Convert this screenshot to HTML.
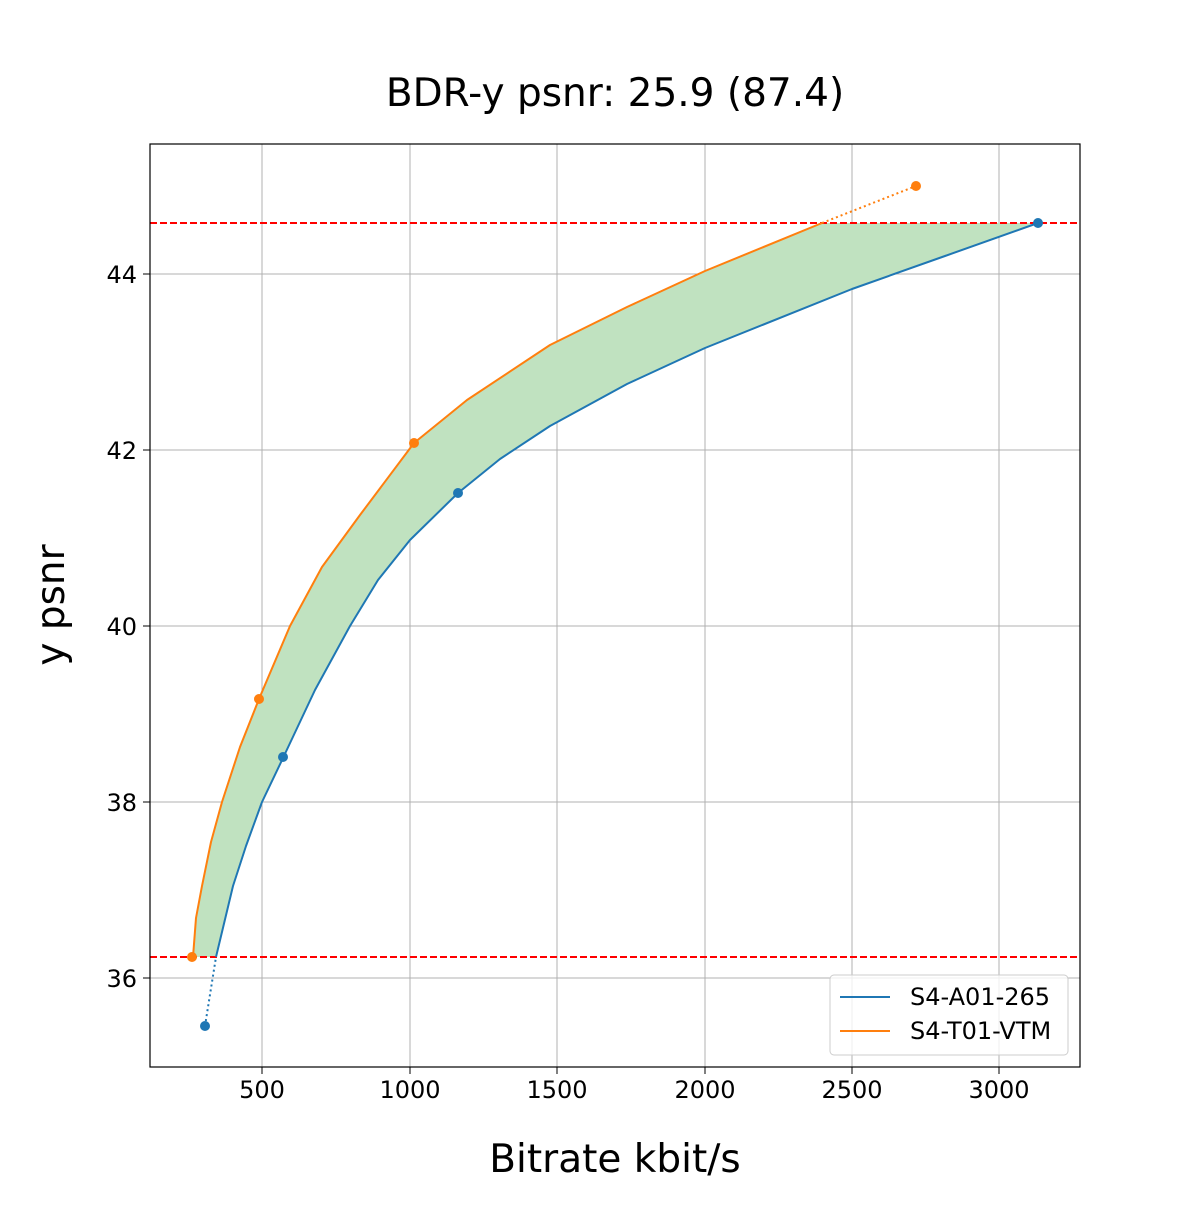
<!DOCTYPE html>
<html><head><meta charset="utf-8"><style>body{margin:0;background:#fff}</style></head>
<body>
<svg width="1200" height="1200" xmlns="http://www.w3.org/2000/svg" font-family="'DejaVu Sans','Liberation Sans',sans-serif">
<rect width="1200" height="1200" fill="#fff"/>
<g stroke="#b0b0b0" stroke-width="1">
<line x1="262" y1="144" x2="262" y2="1067"/><line x1="410" y1="144" x2="410" y2="1067"/>
<line x1="557" y1="144" x2="557" y2="1067"/><line x1="705" y1="144" x2="705" y2="1067"/>
<line x1="852" y1="144" x2="852" y2="1067"/><line x1="999" y1="144" x2="999" y2="1067"/>
<line x1="150" y1="274" x2="1080" y2="274"/><line x1="150" y1="450" x2="1080" y2="450"/>
<line x1="150" y1="626" x2="1080" y2="626"/><line x1="150" y1="802" x2="1080" y2="802"/>
<line x1="150" y1="978" x2="1080" y2="978"/>
</g>
<path d="M193,957 L196,918 L202,886 L211,842 L222,802 L240,747 L259,699 L290,626 L322,567 L360,515 L414,443 L467,400 L550,345 L627,307 L705,271 L822,223 L1038,223 L945,256 L852,289 L705,348 L627,384 L550,426 L500,459 L458,493 L410,540 L378,580 L350,626 L315,690 L283,758 L262,802 L246,846 L233,886 L216,957 Z" fill="#c0e2c0"/>
<line x1="150" y1="223" x2="1080" y2="223" stroke="#ff0000" stroke-width="2" stroke-dasharray="7,3"/>
<line x1="150" y1="957" x2="1080" y2="957" stroke="#ff0000" stroke-width="2" stroke-dasharray="7,3"/>
<polyline fill="none" stroke="#1f77b4" stroke-width="2" stroke-dasharray="2,3" points="205,1026 216,957"/>
<polyline fill="none" stroke="#1f77b4" stroke-width="2" stroke-linejoin="round" points="216,957 233,886 246,846 262,802 283,758 315,690 350,626 378,580 410,540 458,493 500,459 550,426 627,384 705,348 852,289 945,256 1038,223"/>
<polyline fill="none" stroke="#ff7f0e" stroke-width="2" stroke-linejoin="round" points="193,957 196,918 202,886 211,842 222,802 240,747 259,699 290,626 322,567 360,515 414,443 467,400 550,345 627,307 705,271 822,223"/>
<polyline fill="none" stroke="#ff7f0e" stroke-width="2" stroke-dasharray="2,3" points="822,223 916,186"/>
<g fill="#1f77b4"><circle cx="205" cy="1026" r="5"/><circle cx="283" cy="757" r="5"/><circle cx="458" cy="493" r="5"/><circle cx="1038" cy="223" r="5"/></g>
<g fill="#ff7f0e"><circle cx="192" cy="957" r="5"/><circle cx="259" cy="699" r="5"/><circle cx="414" cy="443" r="5"/><circle cx="916" cy="186" r="5"/></g>
<rect x="150" y="144" width="930" height="923" fill="none" stroke="#000" stroke-width="1.2"/>
<g stroke="#000"><line x1="262" y1="1067" x2="262" y2="1074"/><line x1="410" y1="1067" x2="410" y2="1074"/><line x1="557" y1="1067" x2="557" y2="1074"/><line x1="705" y1="1067" x2="705" y2="1074"/><line x1="852" y1="1067" x2="852" y2="1074"/><line x1="999" y1="1067" x2="999" y2="1074"/>
<line x1="143" y1="274" x2="150" y2="274"/><line x1="143" y1="450" x2="150" y2="450"/><line x1="143" y1="626" x2="150" y2="626"/><line x1="143" y1="802" x2="150" y2="802"/><line x1="143" y1="978" x2="150" y2="978"/></g>
<g font-size="24" text-anchor="middle" fill="#000">
<text x="262" y="1098">500</text><text x="410" y="1098">1000</text><text x="557" y="1098">1500</text><text x="705" y="1098">2000</text><text x="852" y="1098">2500</text><text x="999" y="1098">3000</text></g>
<g font-size="24" text-anchor="end" fill="#000">
<text x="137" y="283">44</text><text x="137" y="459">42</text><text x="137" y="635">40</text><text x="137" y="811">38</text><text x="137" y="987">36</text></g>
<text x="615" y="106" font-size="39" text-anchor="middle">BDR-y psnr: 25.9 (87.4)</text>
<text x="615" y="1172" font-size="39" text-anchor="middle">Bitrate kbit/s</text>
<text transform="translate(64,605) rotate(-90)" font-size="39" text-anchor="middle">y psnr</text>
<rect x="830" y="975" width="238" height="80" rx="4" fill="#fff" fill-opacity="0.8" stroke="#ccc"/>
<line x1="840" y1="997" x2="890" y2="997" stroke="#1f77b4" stroke-width="2"/>
<line x1="840" y1="1031" x2="890" y2="1031" stroke="#ff7f0e" stroke-width="2"/>
<text x="910" y="1005" font-size="24">S4-A01-265</text>
<text x="910" y="1039" font-size="24">S4-T01-VTM</text>
</svg>
</body></html>
